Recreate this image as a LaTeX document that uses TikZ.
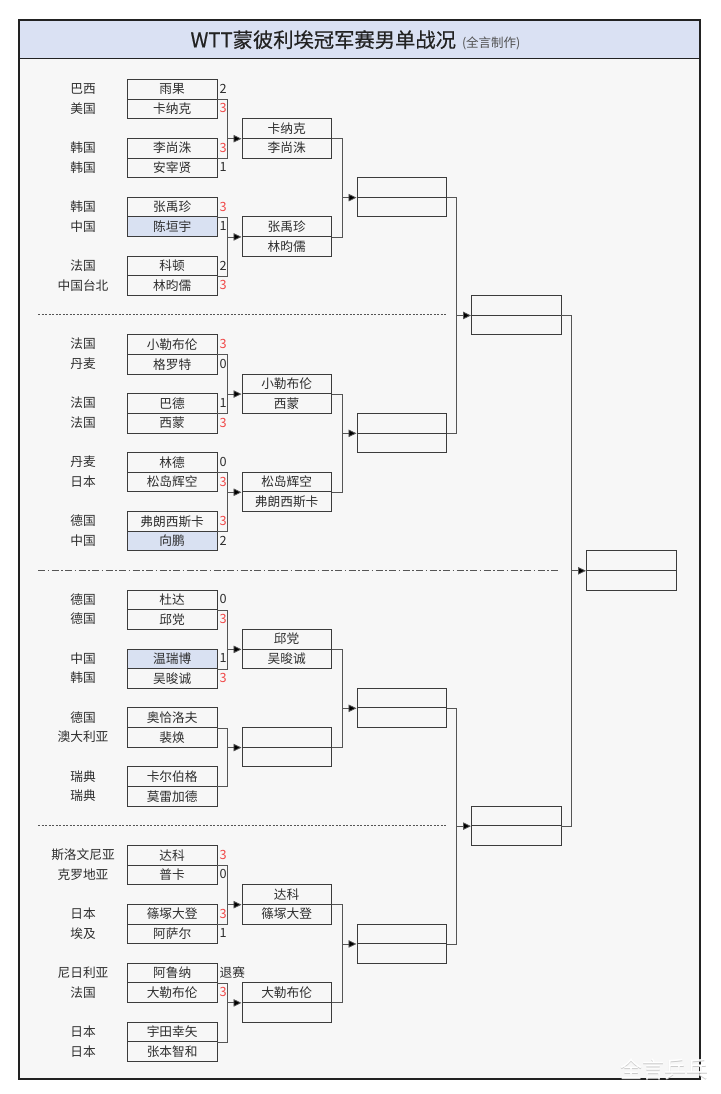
\documentclass[tikz,border=0pt]{standalone}
\usepackage{fontspec}
\setmainfont{Noto Sans CJK SC}
\newfontfamily\titlefont[FakeBold=0.5]{Noto Sans CJK SC}
\usetikzlibrary{arrows.meta}
\definecolor{bgc}{HTML}{F7F7F7}
\definecolor{titlec}{HTML}{DAE1F3}
\definecolor{framec}{HTML}{222222}
\definecolor{cellc}{HTML}{3C3C3C}
\definecolor{connc}{HTML}{555555}
\definecolor{hl}{HTML}{D9E1F2}
\definecolor{scorered}{HTML}{F04848}
\definecolor{txt}{HTML}{2E2E2E}
\definecolor{tgray}{HTML}{505050}
\newcommand\rt{\textcolor{scorered}{3}}
\newcommand\pcell[6][]{%
  \node[cell,#1] (#2) at (127,#3) {#5};
  \node[ctry] (#2c) at (83,#3+0.5) {#4};
  \node[score] (#2s) at (219.5,#3+0.5) {#6};}
\begin{document}
\begin{tikzpicture}[x=1pt,y=-1pt,
  cell/.style={draw=cellc,line width=0.8pt,minimum width=89.5pt,minimum height=19.64pt,
    inner sep=0pt,anchor=north west,text=txt,font=\fontsize{12.7}{14}\selectfont},
  ctry/.style={inner sep=0pt,text=txt,font=\fontsize{12.7}{14}\selectfont},
  score/.style={inner sep=0pt,anchor=west,text=txt,font=\fontsize{12.7}{14}\selectfont},
  conn/.style={draw=connc,line width=0.8pt},
  arr/.style={draw=connc,line width=0.8pt,-{Triangle[length=8pt,width=7.5pt,fill=black]}},
  sepdash/.style={draw=connc,line width=0.7pt,dash pattern=on 2pt off 1.5pt},
  sepdot/.style={draw=connc,line width=0.7pt,dash pattern=on 7pt off 2.5pt on 1.5pt off 2.5pt}]
\useasboundingbox (0,0) rectangle (720,1094);
\fill[white] (0,0) rectangle (720,1094);
\fill[bgc] (19,20) rectangle (700,1079);
\fill[titlec] (19,20) rectangle (700,58.5);
\draw[framec,line width=1.3pt] (19,58.5) -- (700,58.5);
\draw[framec,line width=1.3pt] (19,20) rectangle (700,1079);
\node[text=framec,inner sep=0pt] (title) at (355.5,40)
  {{\titlefont\fontsize{20.3}{23}\selectfont WTT蒙彼利埃冠军赛男单战况}\hspace{6pt}{\rmfamily\fontsize{12.5}{15}\selectfont\color{tgray}(全言制作)}};
\begin{scope}[shift={(0pt,-79pt)},y=-19.64pt]
% junction x positions
\coordinate (j1) at (227,0);
\coordinate (j2) at (342,0);
\coordinate (j3) at (456.5,0);
\coordinate (j4) at (571,0);
% separators
\draw[sepdash] (38,12) -- (446,12);
\draw[sepdot] (38,25) -- (560,25);
\draw[sepdash] (38,38) -- (446,38);
% ---------- quarter 1
\pcell{a0}{0}{巴西}{雨果}{2}
\pcell{a1}{1}{美国}{卡纳克}{\rt}
\pcell{a2}{3}{韩国}{李尚洙}{\rt}
\pcell{a3}{4}{韩国}{安宰贤}{1}
\pcell{a4}{6}{韩国}{张禹珍}{\rt}
\pcell[fill=hl]{a5}{7}{中国}{陈垣宇}{1}
\pcell{a6}{9}{法国}{科顿}{2}
\pcell{a7}{10}{中国台北}{林昀儒}{\rt}
% ---------- quarter 2
\pcell{a8}{13}{法国}{小勒布伦}{\rt}
\pcell{a9}{14}{丹麦}{格罗特}{0}
\pcell{a10}{16}{法国}{巴德}{1}
\pcell{a11}{17}{法国}{西蒙}{\rt}
\pcell{a12}{19}{丹麦}{林德}{0}
\pcell{a13}{20}{日本}{松岛辉空}{\rt}
\pcell{a14}{22}{德国}{弗朗西斯卡}{\rt}
\pcell[fill=hl]{a15}{23}{中国}{向鹏}{2}
% ---------- quarter 3
\pcell{a16}{26}{德国}{杜达}{0}
\pcell{a17}{27}{德国}{邱党}{\rt}
\pcell[fill=hl]{a18}{29}{中国}{温瑞博}{1}
\pcell{a19}{30}{韩国}{吴晙诚}{\rt}
\pcell{a20}{32}{德国}{奥恰洛夫}{}
\pcell{a21}{33}{澳大利亚}{裴焕}{}
\pcell{a22}{35}{瑞典}{卡尔伯格}{}
\pcell{a23}{36}{瑞典}{莫雷加德}{}
% ---------- quarter 4
\pcell{a24}{39}{斯洛文尼亚}{达科}{\rt}
\pcell{a25}{40}{克罗地亚}{普卡}{0}
\pcell{a26}{42}{日本}{篠塚大登}{\rt}
\pcell{a27}{43}{埃及}{阿萨尔}{1}
\pcell{a28}{45}{尼日利亚}{阿鲁纳}{退赛}
\pcell{a29}{46}{法国}{大勒布伦}{\rt}
\pcell{a30}{48}{日本}{宇田幸矢}{}
\pcell{a31}{49}{日本}{张本智和}{}
% ---------- round 2
\node[cell] (b0) at (241.5,2) {卡纳克};
\node[cell] (b1) at (241.5,3) {李尚洙};
\node[cell] (b2) at (241.5,7) {张禹珍};
\node[cell] (b3) at (241.5,8) {林昀儒};
\node[cell] (b4) at (241.5,15) {小勒布伦};
\node[cell] (b5) at (241.5,16) {西蒙};
\node[cell] (b6) at (241.5,20) {松岛辉空};
\node[cell] (b7) at (241.5,21) {弗朗西斯卡};
\node[cell] (b8) at (241.5,28) {邱党};
\node[cell] (b9) at (241.5,29) {吴晙诚};
\node[cell] (b10) at (241.5,33) {};
\node[cell] (b11) at (241.5,34) {};
\node[cell] (b12) at (241.5,46) {大勒布伦};
\node[cell] (b13) at (241.5,47) {};
\node[cell] (b14) at (241.5,41) {达科};
\node[cell] (b15) at (241.5,42) {篠塚大登};
% ---------- quarter finals
\node[cell] (c0) at (356.5,5) {};
\node[cell] (c1) at (356.5,6) {};
\node[cell] (c2) at (356.5,17) {};
\node[cell] (c3) at (356.5,18) {};
\node[cell] (c4) at (356.5,31) {};
\node[cell] (c5) at (356.5,32) {};
\node[cell] (c6) at (356.5,43) {};
\node[cell] (c7) at (356.5,44) {};
% ---------- semi finals
\node[cell] (d0) at (471,11) {};
\node[cell] (d1) at (471,12) {};
\node[cell] (d2) at (471,37) {};
\node[cell] (d3) at (471,38) {};
% ---------- final
\node[cell] (f0) at (586,24) {};
\node[cell] (f1) at (586,25) {};
% ---------- connectors round 1 -> round 2
\draw[conn] (a0.south east) -- (a0.south east -| j1) -- (a2.south east -| j1) -- (a2.south east);
\draw[arr] (b0.south west -| j1) -- (b0.south west);
\draw[conn] (a4.south east) -- (a4.south east -| j1) -- (a6.south east -| j1) -- (a6.south east);
\draw[arr] (b2.south west -| j1) -- (b2.south west);
\draw[conn] (a8.south east) -- (a8.south east -| j1) -- (a10.south east -| j1) -- (a10.south east);
\draw[arr] (b4.south west -| j1) -- (b4.south west);
\draw[conn] (a12.south east) -- (a12.south east -| j1) -- (a14.south east -| j1) -- (a14.south east);
\draw[arr] (b6.south west -| j1) -- (b6.south west);
\draw[conn] (a16.south east) -- (a16.south east -| j1) -- (a18.south east -| j1) -- (a18.south east);
\draw[arr] (b8.south west -| j1) -- (b8.south west);
\draw[conn] (a20.south east) -- (a20.south east -| j1) -- (a22.south east -| j1) -- (a22.south east);
\draw[arr] (b10.south west -| j1) -- (b10.south west);
\draw[conn] (a24.south east) -- (a24.south east -| j1) -- (a26.south east -| j1) -- (a26.south east);
\draw[arr] (b14.south west -| j1) -- (b14.south west);
\draw[conn] (a28.south east) -- (a28.south east -| j1) -- (a30.south east -| j1) -- (a30.south east);
\draw[arr] (b12.south west -| j1) -- (b12.south west);
% ---------- round 2 -> quarter finals
\draw[conn] (b0.south east) -- (b0.south east -| j2) -- (b2.south east -| j2) -- (b2.south east);
\draw[arr] (c0.south west -| j2) -- (c0.south west);
\draw[conn] (b4.south east) -- (b4.south east -| j2) -- (b6.south east -| j2) -- (b6.south east);
\draw[arr] (c2.south west -| j2) -- (c2.south west);
\draw[conn] (b8.south east) -- (b8.south east -| j2) -- (b10.south east -| j2) -- (b10.south east);
\draw[arr] (c4.south west -| j2) -- (c4.south west);
\draw[conn] (b14.south east) -- (b14.south east -| j2) -- (b12.south east -| j2) -- (b12.south east);
\draw[arr] (c6.south west -| j2) -- (c6.south west);
% ---------- quarter finals -> semi finals
\draw[conn] (c0.south east) -- (c0.south east -| j3) -- (c2.south east -| j3) -- (c2.south east);
\draw[arr] (d0.south west -| j3) -- (d0.south west);
\draw[conn] (c4.south east) -- (c4.south east -| j3) -- (c6.south east -| j3) -- (c6.south east);
\draw[arr] (d2.south west -| j3) -- (d2.south west);
% ---------- semi finals -> final
\draw[conn] (d0.south east) -- (d0.south east -| j4) -- (d2.south east -| j4) -- (d2.south east);
\draw[arr] (f0.south west -| j4) -- (f0.south west);
\end{scope}
% watermark
\node[text=black!20,inner sep=0pt] (wms) at (664.8,1069.8) {\fontsize{22}{24}\selectfont 全言乒乓};
\node[text=white,inner sep=0pt] (wm) at (664,1069) {\fontsize{22}{24}\selectfont 全言乒乓};
\end{tikzpicture}
\end{document}
